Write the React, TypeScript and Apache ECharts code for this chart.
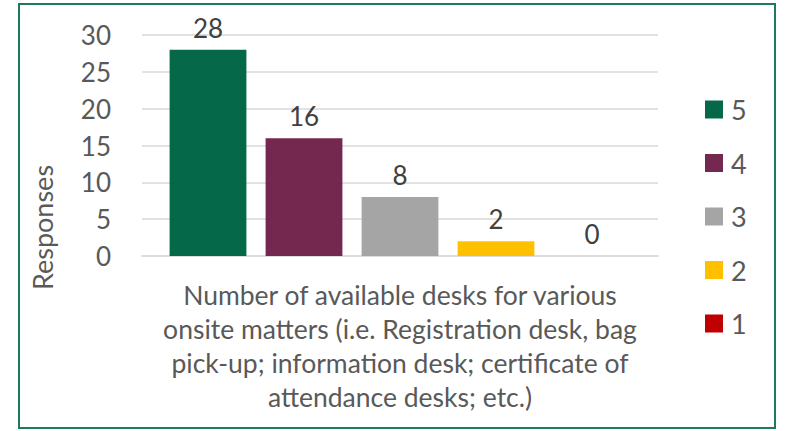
import React, { useEffect, useRef } from "react";
import * as echarts from "echarts";

const categories = [
  "Number of available desks for various\nonsite matters (i.e. Registration desk, bag\npick-up; information desk; certificate of\nattendance desks; etc.)",
];
const seriesNames = ["5", "4", "3", "2", "1"];
const seriesValues = [28, 16, 8, 2, 0];
const seriesColors = ["#056849", "#74274F", "#A5A5A5", "#FFC000", "#C00000"];
const yTicks = { min: 0, max: 30, interval: 5 };

const FONT = "Lato, 'Open Sans', sans-serif";

export default function App() {
  const ref = useRef<HTMLDivElement>(null);
  useEffect(() => {
    if (!ref.current) return;
    const chart = echarts.init(ref.current, undefined, { renderer: "svg" });
    chart.setOption({
      animation: false,
      backgroundColor: "#ffffff",
      textStyle: { fontFamily: FONT },
      graphic: [
        {
          type: "rect",
          shape: { x: 19, y: 4, width: 756, height: 424 },
          style: { fill: "none", stroke: "#1E7A5C", lineWidth: 2 },
          silent: true,
        },
      ],
      grid: { left: 142, right: 127, top: 35, bottom: 175, containLabel: false },
      legend: {
        orient: "vertical",
        left: 700,
        top: 91,
        itemWidth: 18,
        itemHeight: 18,
        itemGap: 26.5,
        icon: "rect",
        textStyle: { fontSize: 27, color: "#595959", fontFamily: FONT, padding: [0, 0, 0, 3] },
        data: seriesNames,
      },
      xAxis: {
        type: "category",
        data: categories,
        axisLine: { show: true, lineStyle: { color: "#D9D9D9", width: 1.5 } },
        axisTick: { show: false },
        axisLabel: {
          fontSize: 26.5,
          color: "#595959",
          lineHeight: 34,
          margin: 22,
          align: "center",
          fontFamily: FONT,
        },
      },
      yAxis: {
        type: "value",
        min: yTicks.min,
        max: yTicks.max,
        interval: yTicks.interval,
        name: "Responses",
        nameLocation: "middle",
        nameGap: 86,
        nameRotate: 90,
        nameTextStyle: {
          fontSize: 27,
          color: "#595959",
          fontFamily: FONT,
          padding: [0, 164, 0, 0],
        },
        axisLine: { show: false },
        axisTick: { show: false },
        axisLabel: { fontSize: 26, color: "#595959", margin: 31, fontFamily: FONT },
        splitLine: { lineStyle: { color: "#D9D9D9", width: 1.5 } },
      },
      series: seriesNames.map((name, i) => ({
        name,
        type: "bar",
        data: [seriesValues[i]],
        itemStyle: { color: seriesColors[i] },
        barGap: "25%",
        barCategoryGap: "10.7%",
        label: {
          show: true,
          position: "top",
          distance: 9,
          fontSize: 26,
          color: "#404040",
          fontFamily: FONT,
        },
      })),
    });
    return () => chart.dispose();
  }, []);
  return (
    <div
      ref={ref}
      style={{ position: "absolute", left: 0, top: 0, width: 785, height: 431 }}
    />
  );
}
